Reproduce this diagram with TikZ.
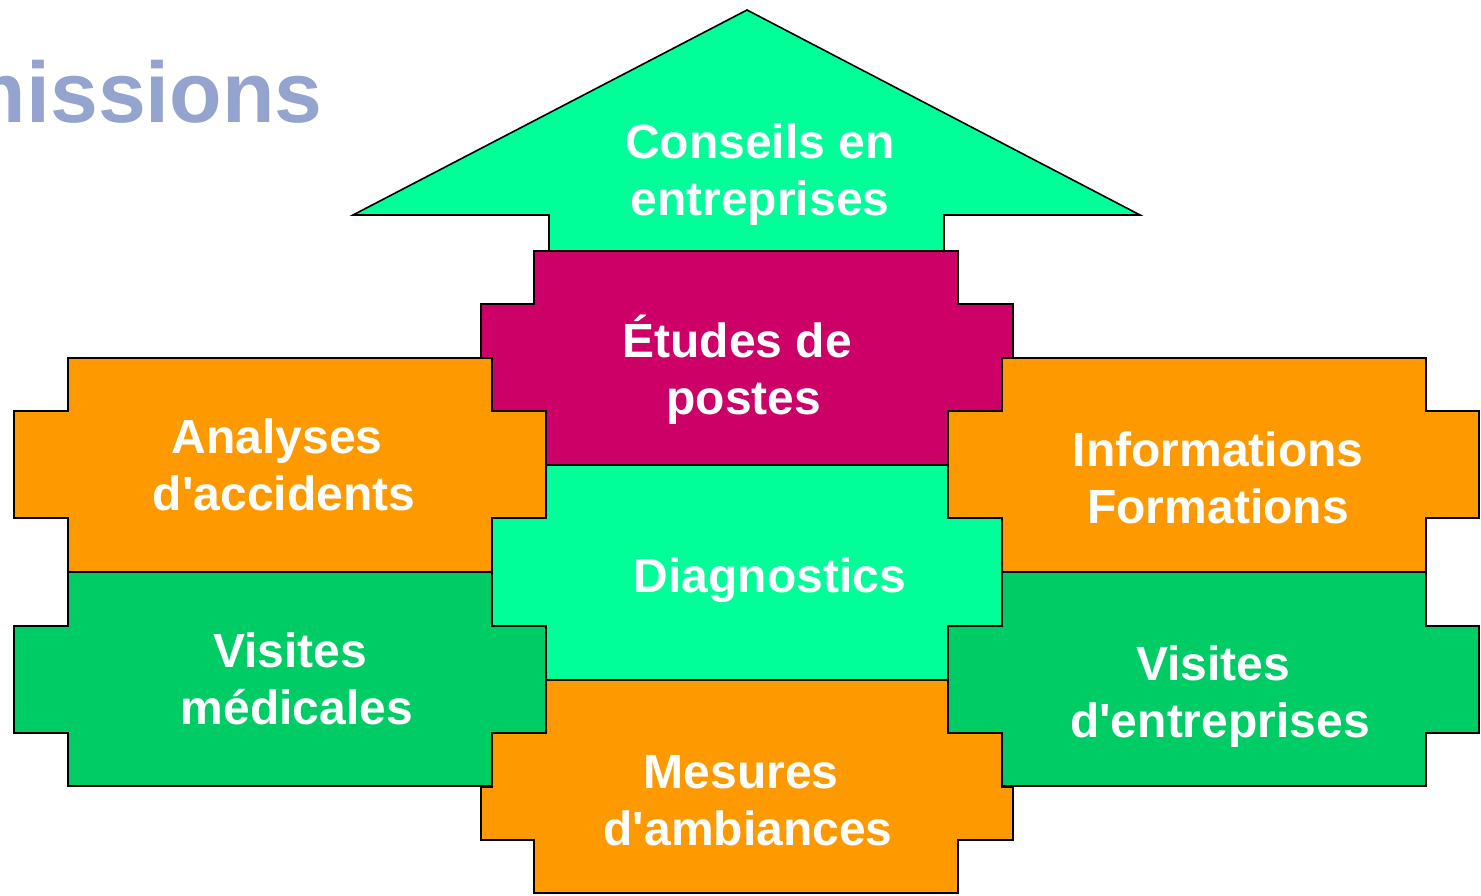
\documentclass[tikz,border=0pt]{standalone}
\usepackage{fontspec}
\setmainfont{Liberation Sans}
\definecolor{pzorange}{HTML}{FF9900}
\definecolor{pzgreen}{HTML}{00CC66}
\definecolor{pzmint}{HTML}{00FF99}
\definecolor{pzmagenta}{HTML}{CC0066}
\definecolor{titleblue}{HTML}{95A3CF}
\begin{document}
\begin{tikzpicture}[x=1pt, y=-1pt]
    \tikzstyle piece=[draw=black, line width=1.6pt, line join=miter]
    \tikzstyle piecetext=[text=white, font=\fontsize{48}{57}\selectfont\bfseries,
      align=center, inner sep=0pt, anchor=base]
    \useasboundingbox (0,0) rectangle (1481,895);
    \clip (0,0) rectangle (1481,895);
    \node[text=titleblue, font=\fontsize{86}{86}\selectfont\bfseries, inner sep=0pt,
      anchor=base east] (title) at (323,122) {missions};
    \draw[piece, fill=pzmint] (747,10) -- (1140,215) -- (944,215) -- (944,251)
      -- (549,251) -- (549,215) -- (353,215) -- cycle;
    \draw[piece, fill=pzmagenta] (534,251) -- (958,251) -- (958,304) -- (1013,304)
      -- (1013,358) -- (1002,358) -- (1002,411) -- (948,411) -- (948,465)
      -- (546,465) -- (546,411) -- (492,411) -- (492,358) -- (481,358)
      -- (481,304) -- (534,304) -- cycle;
    \draw[piece, fill=pzmint] (546,465) -- (948,465) -- (948,518) -- (1002,518)
      -- (1002,626) -- (948,626) -- (948,680) -- (546,680) -- (546,626)
      -- (492,626) -- (492,518) -- (546,518) -- cycle;
    \draw[piece, fill=pzorange] (546,680) -- (948,680) -- (948,733) -- (1002,733)
      -- (1002,787) -- (1013,787) -- (1013,840) -- (958,840) -- (958,893)
      -- (534,893) -- (534,840) -- (481,840) -- (481,787) -- (492,787)
      -- (492,733) -- (546,733) -- cycle;
    \draw[piece, fill=pzorange] (68,358) -- (492,358) -- (492,411) -- (546,411)
      -- (546,518) -- (492,518) -- (492,572) -- (68,572) -- (68,518)
      -- (14,518) -- (14,411) -- (68,411) -- cycle;
    \draw[piece, fill=pzgreen] (68,572) -- (492,572) -- (492,626) -- (546,626)
      -- (546,733) -- (492,733) -- (492,786) -- (68,786) -- (68,733)
      -- (14,733) -- (14,626) -- (68,626) -- cycle;
    \draw[piece, fill=pzorange] (1002,358) -- (1426,358) -- (1426,411) -- (1479,411)
      -- (1479,518) -- (1426,518) -- (1426,572) -- (1002,572) -- (1002,518)
      -- (948,518) -- (948,411) -- (1002,411) -- cycle;
    \draw[piece, fill=pzgreen] (1002,572) -- (1426,572) -- (1426,626) -- (1479,626)
      -- (1479,733) -- (1426,733) -- (1426,786) -- (1002,786) -- (1002,733)
      -- (948,733) -- (948,626) -- (1002,626) -- cycle;
    \node[piecetext] (conseils) at (760,215) {Conseils en\\entreprises};
    \node[piecetext] (etudes) at (744,414) {Études de\kern.28em\\postes};
    \node[piecetext] (diagnostics) at (770,592) {Diagnostics};
    \node[piecetext] (mesures) at (748,845) {Mesures\kern.28em\\d\textquotesingle ambiances};
    \node[piecetext] (analyses) at (284,510) {Analyses\kern.28em\\d\textquotesingle accidents};
    \node[piecetext] (medicales) at (297,724) {Visites\kern.28em\\médicales};
    \node[piecetext] (informations) at (1218,523) {Informations\\Formations};
    \node[piecetext] (entreprises) at (1220,737) {Visites\kern.28em\\d\textquotesingle entreprises};
\end{tikzpicture}
\end{document}
